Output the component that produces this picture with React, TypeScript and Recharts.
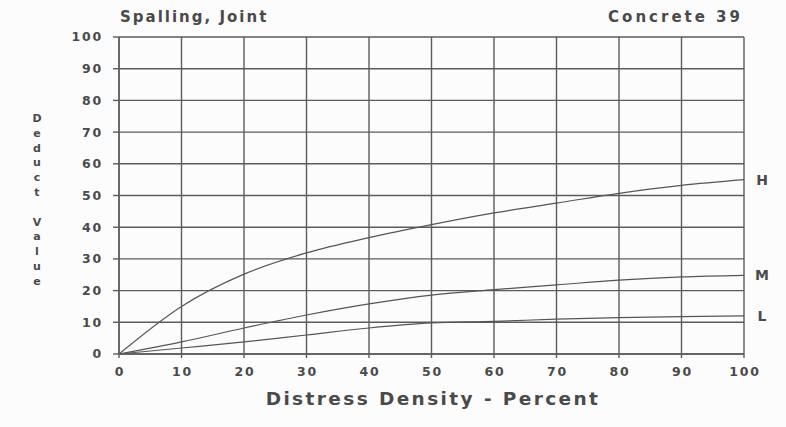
import React from "react";
import { LineChart, Line, XAxis, YAxis, CartesianGrid } from "recharts";

// Distress density, percent
const density = [0, 10, 20, 30, 40, 50, 60, 70, 80, 90, 100];
// deduct values
const highDeduct = [0, 15, 25.2, 31.9, 36.7, 40.8, 44.5, 47.6, 50.7, 53.2, 55];
const mediumDeduct = [0, 3.8, 8.2, 12.3, 15.8, 18.6, 20.3, 21.8, 23.3, 24.3, 24.8];
const lowDeduct = [0, 1.9, 3.8, 6, 8.2, 9.8, 10.3, 11, 11.5, 11.8, 12];
const axisTicks = [0, 10, 20, 30, 40, 50, 60, 70, 80, 90, 100];

const chartData = density.map((d, i) => ({
  density: d,
  high: highDeduct[i],
  medium: mediumDeduct[i],
  low: lowDeduct[i],
}));

const INK = "#4a4a4a";
const GRID = "#5c5c5c";
const FONT = "'DejaVu Sans', Verdana, sans-serif";

const tickStyle = {
  fill: INK,
  fontSize: 12.5,
  fontWeight: "bold",
  fontFamily: FONT,
  letterSpacing: 1.8,
};

const endLabel = (text: string) => (props: any) => {
  const { x, y, index } = props;
  if (index !== density.length - 1) return null;
  return (
    <text
      x={x + 18}
      y={y}
      dy={5}
      fill={INK}
      fontSize={14}
      fontWeight="bold"
      fontFamily={FONT}
      textAnchor="middle"
    >
      {text}
    </text>
  );
};

// vertical stacked label "Deduct Value"
const StackedLabel = () => {
  const letters = "Deduct Value".split("");
  return (
    <text fill={INK} fontSize={11} fontWeight="bold" fontFamily={FONT} textAnchor="middle">
      {letters.map((ch, i) => (
        <tspan key={i} x={37} y={122 + i * 14.8}>
          {ch === " " ? "\u00a0" : ch}
        </tspan>
      ))}
    </text>
  );
};

export default function App() {
  return (
    <div
      style={{
        position: "absolute",
        left: 0,
        top: 0,
        width: 786,
        height: 427,
        background: "#fcfcfc",
      }}
    >
      <LineChart
        width={786}
        height={427}
        data={chartData}
        margin={{ top: 37, right: 42, left: 59, bottom: 23 }}
      >
        <text
          x={120}
          y={22}
          fill={INK}
          fontSize={15}
          fontWeight="bold"
          fontFamily={FONT}
          letterSpacing={2}
        >
          Spalling, Joint
        </text>
        <text
          x={743}
          y={22}
          fill={INK}
          fontSize={15}
          fontWeight="bold"
          fontFamily={FONT}
          letterSpacing={3}
          textAnchor="end"
        >
          Concrete 39
        </text>
        <text
          x={433}
          y={405}
          fill={INK}
          fontSize={18.5}
          fontWeight="bold"
          fontFamily={FONT}
          letterSpacing={2.4}
          textAnchor="middle"
        >
          Distress Density - Percent
        </text>
        <StackedLabel />
        <CartesianGrid stroke={GRID} strokeWidth={1.4} />
        <XAxis
          dataKey="density"
          type="number"
          domain={[0, 100]}
          ticks={axisTicks}
          height={50}
          stroke={GRID}
          strokeWidth={1.4}
          tickSize={4}
          tickMargin={9}
          tick={{ ...tickStyle, dx: 1 }}
        />
        <YAxis
          type="number"
          domain={[0, 100]}
          ticks={axisTicks}
          width={60}
          stroke={GRID}
          strokeWidth={1.4}
          tickSize={6}
          tickMargin={10}
          tick={tickStyle}
        />
        <Line
          type="monotone"
          dataKey="high"
          stroke="#555"
          strokeWidth={1.2}
          dot={false}
          isAnimationActive={false}
          label={endLabel("H")}
        />
        <Line
          type="monotone"
          dataKey="medium"
          stroke="#555"
          strokeWidth={1.2}
          dot={false}
          isAnimationActive={false}
          label={endLabel("M")}
        />
        <Line
          type="monotone"
          dataKey="low"
          stroke="#555"
          strokeWidth={1.2}
          dot={false}
          isAnimationActive={false}
          label={endLabel("L")}
        />
      </LineChart>
    </div>
  );
}
